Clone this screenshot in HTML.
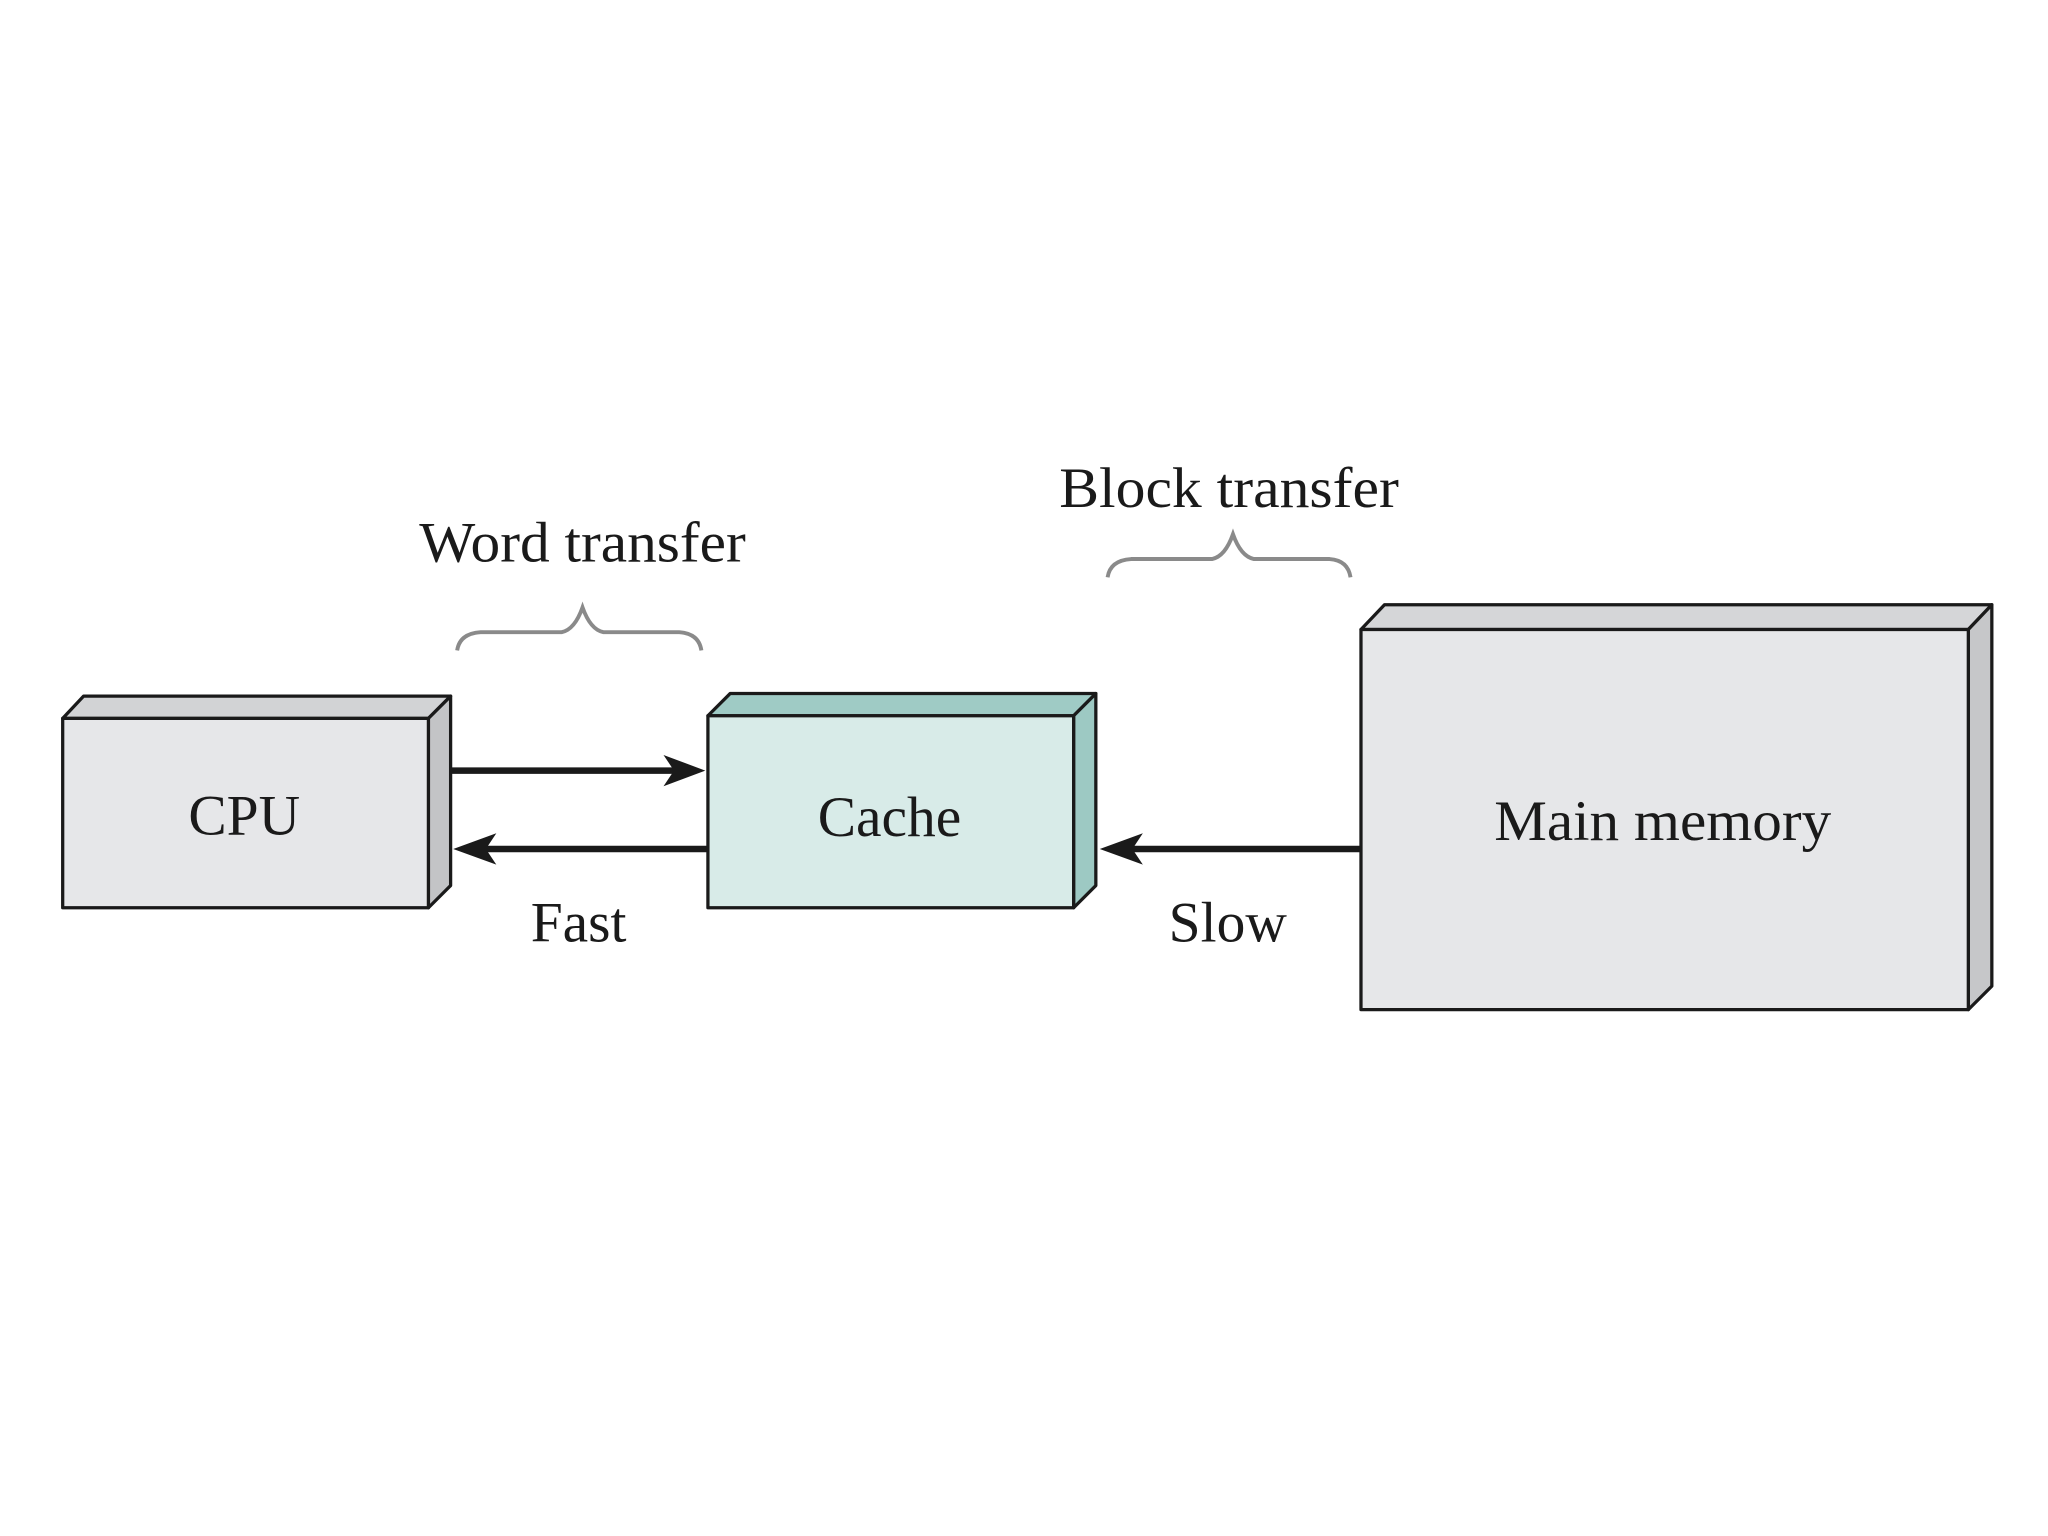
<!DOCTYPE html>
<html><head><meta charset="utf-8"><style>html,body{margin:0;padding:0;background:#fff}svg{display:block}</style></head>
<body>
<svg width="2048" height="1536" viewBox="0 0 1568 1176" xmlns="http://www.w3.org/2000/svg" font-family="'Liberation Serif', serif">
<rect width="1568" height="1176" fill="#fff"/>
<g stroke="#1a1a1a" stroke-width="2.5" stroke-linejoin="round">
<!-- CPU -->
<polygon points="48,550 64,533 345,533 328,550" fill="#d2d3d5"/>
<polygon points="328,550 345,533 345,678 328,695" fill="#c3c4c6"/>
<rect x="48" y="550" width="280" height="145" fill="#e6e7e9"/>
<!-- Cache -->
<polygon points="542,548 559,531 839,531 822,548" fill="#9fcbc5"/>
<polygon points="822,548 839,531 839,678 822,695" fill="#9dc9c3"/>
<rect x="542" y="548" width="280" height="147" fill="#d8ebe8"/>
<!-- Main memory -->
<polygon points="1042,482 1060,463 1525,463 1507,482" fill="#d5d6d8"/>
<polygon points="1507,482 1525,463 1525,755 1507,773" fill="#c6c7c9"/>
<rect x="1042" y="482" width="465" height="291" fill="#e6e7e9"/>
</g>
<g stroke="#1a1a1a" stroke-width="5" fill="none">
<line x1="345" y1="590" x2="520" y2="590"/>
<line x1="542" y1="650" x2="368" y2="650"/>
<line x1="1042" y1="650" x2="862" y2="650"/>
</g>
<g fill="#1a1a1a">
<polygon points="540,590 508,578 516,590 508,602"/>
<polygon points="347,650 380,638 372,650 380,662"/>
<polygon points="842,650 875,638 867,650 875,662"/>
</g>
<g stroke="#8a8a8a" stroke-width="3" fill="none">
<path d="M350,498 Q352,485 368,484 L430,484 Q440,482 446,465 Q452,482 462,484 L520,484 Q535,485 537,498"/>
<path d="M848,442 Q850,429 866,428 L928,428 Q938,426 944,409 Q950,426 960,428 L1018,428 Q1032,429 1034,442"/>
</g>
<g fill="#1a1a1a" font-size="44" text-anchor="middle">
<text x="446" y="430" textLength="250" lengthAdjust="spacingAndGlyphs">Word transfer</text>
<text x="941" y="388" textLength="260" lengthAdjust="spacingAndGlyphs">Block transfer</text>
<text x="187" y="639">CPU</text>
<text x="681" y="640">Cache</text>
<text x="1273" y="643" textLength="258" lengthAdjust="spacingAndGlyphs">Main memory</text>
<text x="443" y="721">Fast</text>
<text x="940" y="721">Slow</text>
</g>
</svg>
</body></html>
